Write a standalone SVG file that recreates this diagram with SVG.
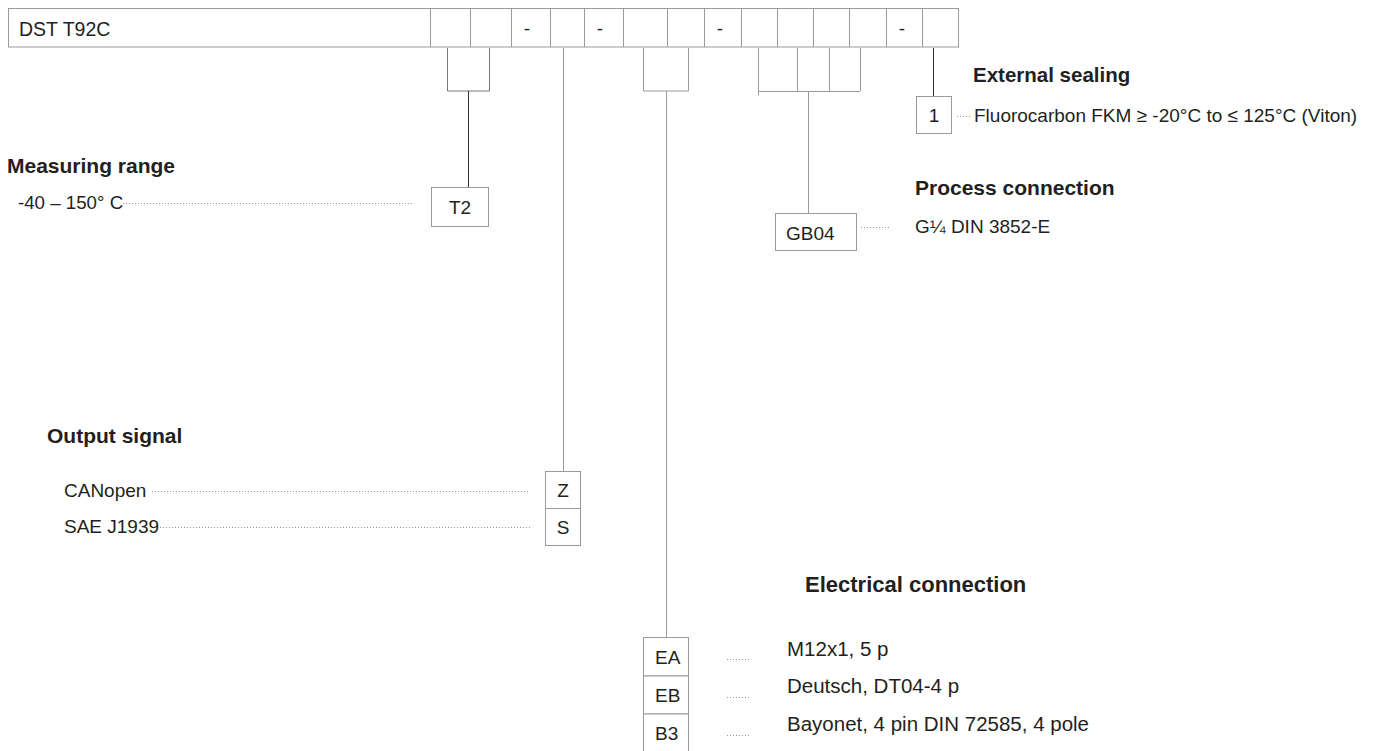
<svg xmlns="http://www.w3.org/2000/svg" width="1388" height="751" viewBox="0 0 1388 751">
<style>
.t{font-family:"Liberation Sans",Arial,sans-serif;font-size:19px;fill:#231f20}
.b{font-family:"Liberation Sans",Arial,sans-serif;font-size:21px;font-weight:bold;fill:#231f20}
.d{font-family:"Liberation Sans",Arial,sans-serif;font-size:20.5px;fill:#231f20}
.c{text-anchor:middle}
.box{fill:#fff;stroke:#9a9a9a;stroke-width:1}
.ln{fill:none;stroke:#9a9a9a;stroke-width:1}
.dk{fill:none;stroke:#333;stroke-width:1}
.dot{fill:none;stroke:#9a9a9a;stroke-width:1;stroke-dasharray:1 2}
</style>
<rect width="1388" height="751" fill="#fff"/>
<g id="code">
<rect class="box" x="8.5" y="8.5" width="950" height="38.5"/>
<path class="ln" d="M430.5 8V47M470.5 8V47M511.5 8V47M550.5 8V47M584.5 8V47M623.5 8V47M667.5 8V47M704.5 8V47M741.5 8V47M777.5 8V47M813.5 8V47M849.5 8V47M886.5 8V47M922.5 8V47"/>
<text class="t" x="19" y="36" style="font-size:19.5px">DST T92C</text>
<text class="t c" x="527" y="35">-</text>
<text class="t c" x="600" y="35">-</text>
<text class="t c" x="720" y="35">-</text>
<text class="t c" x="902" y="35">-</text>
</g>
<g id="connectors">
<path d="M447.5 48V91H489.5V48" fill="none" stroke="#777"/>
<path class="dk" d="M468.5 91V187"/>
<path class="ln" d="M563.5 48V471"/>
<path class="ln" d="M643.5 48V91H688.5V48M666.5 91V637"/>
<path class="ln" d="M758.5 48V95M758 91.5H860M797.5 48V91M829.5 48V91M860.5 48V91M808.5 91V213"/>
<path class="dk" d="M933.5 48V96"/>
<path class="dot" d="M123 203.5H412"/>
<path class="dot" d="M152 491.5H530"/>
<path class="dot" d="M160 527.5H530"/>
<path class="dot" d="M727 659.5H751M727 697.5H751M727 735.5H751"/>
<path class="dot" d="M861 227.5H891"/>
<path class="dot" d="M957 116.5H971"/>
</g>
<g id="measuring-range">
<text class="b" x="7" y="173">Measuring range</text>
<text class="t" x="18" y="209" style="font-size:18.7px">-40 – 150° C</text>
<rect class="box" x="431.5" y="187.5" width="57" height="39"/>
<text class="t c" x="460" y="214">T2</text>
</g>
<g id="output-signal">
<text class="b" x="47" y="443">Output signal</text>
<text class="t" x="64" y="497">CANopen</text>
<text class="t" x="64" y="533">SAE J1939</text>
<rect class="box" x="545.5" y="471.5" width="35" height="37"/>
<rect class="box" x="545.5" y="508.5" width="35" height="37"/>
<text class="t c" x="563" y="497">Z</text>
<text class="t c" x="563" y="534">S</text>
</g>
<g id="electrical-connection">
<text class="b" x="805" y="592" style="font-size:22px">Electrical connection</text>
<rect class="box" x="643.5" y="637.5" width="45" height="38.5"/>
<rect class="box" x="643.5" y="676" width="45" height="38"/>
<rect class="box" x="643.5" y="714" width="45" height="38"/>
<text class="t" x="655" y="664">EA</text>
<text class="t" x="655" y="702">EB</text>
<text class="t" x="655" y="740">B3</text>
<text class="d" x="787" y="656">M12x1, 5 p</text>
<text class="d" x="787" y="693">Deutsch, DT04-4 p</text>
<text class="d" x="787" y="731">Bayonet, 4 pin DIN 72585, 4 pole</text>
</g>
<g id="process-connection">
<text class="b" x="915" y="195">Process connection</text>
<rect class="box" x="775.5" y="213.5" width="81" height="37"/>
<text class="t" x="786" y="240">GB04</text>
<text class="t" x="915" y="233">G¼ DIN 3852-E</text>
</g>
<g id="external-sealing">
<text class="b" x="973" y="82" style="font-size:20.5px">External sealing</text>
<rect class="box" x="916.5" y="96.5" width="35" height="37"/>
<text class="t c" x="934" y="122">1</text>
<text class="t" x="974" y="122">Fluorocarbon FKM ≥ -20°C to ≤ 125°C (Viton)</text>
</g>
</svg>
